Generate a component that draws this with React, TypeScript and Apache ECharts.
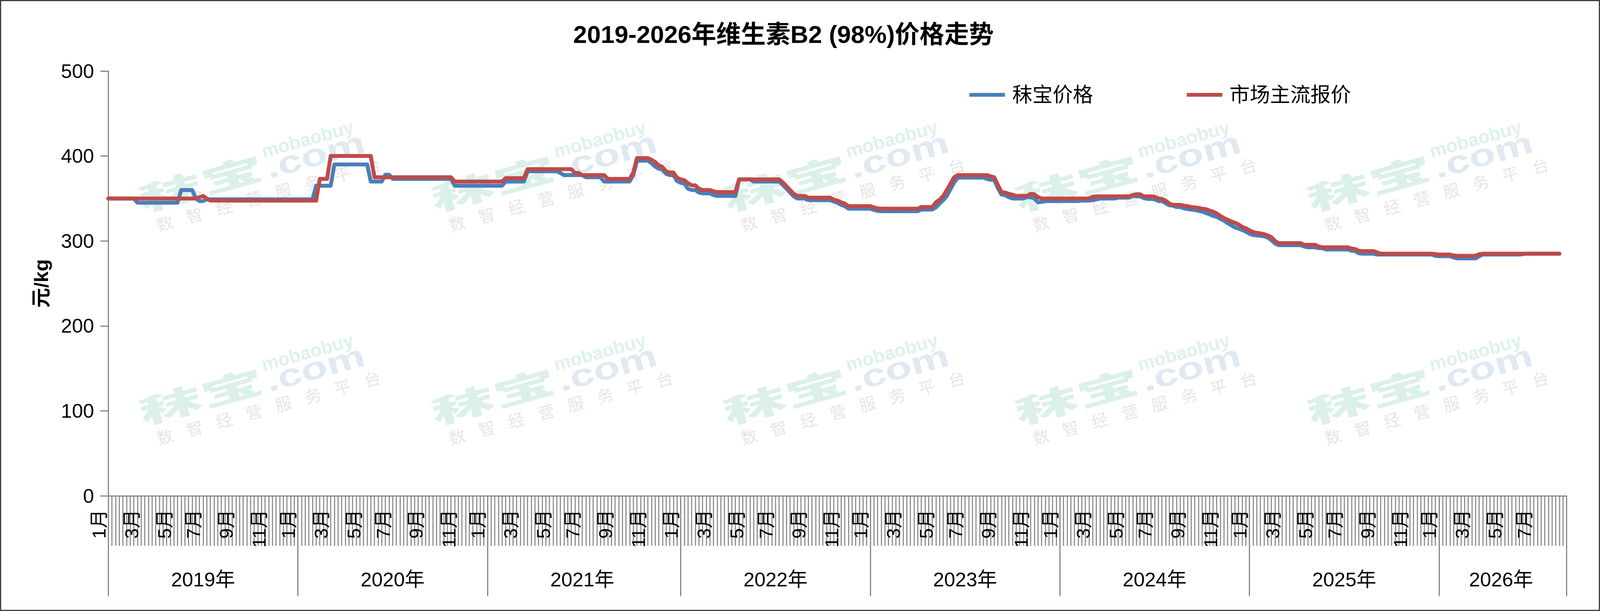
import React, { useEffect, useRef } from "react";
import * as echarts from "echarts";

// ---------- labels ----------
const chartTitle = "2019-2026年维生素B2 (98%)价格走势";
const yearNames = ["2019年", "2020年", "2021年", "2022年", "2023年", "2024年", "2025年", "2026年"];
const weeksPerYear = [52, 52, 53, 52, 52, 52, 52, 36];
const monthNames = ["1月", "3月", "5月", "7月", "9月", "11月"];
const monthWeekOffsets = [0, 9, 18, 26, 35, 44];
const seriesNames = ["秣宝价格", "市场主流报价"];
const yAxisName = "元/kg";
const yMin = 0;
const yMax = 500;
const yStep = 100;

// ---------- weekly prices: 秣宝价格 ----------
const blue2019 = [
  350, 350, 350, 350, 350, 350, 350, 350, 345, 345,
  345, 345, 345, 345, 345, 345, 345, 345, 345, 345,
  360, 360, 360, 360, 350, 347, 347, 349, 349, 349,
  349, 349, 349, 349, 349, 349, 349, 349, 349, 349,
  349, 349, 349, 349, 349, 349, 349, 349, 349, 349,
  349, 349,
];
const blue2020 = [
  349, 349, 349, 349, 349, 365, 365, 365, 365, 365,
  390, 390, 390, 390, 390, 390, 390, 390, 390, 390,
  370, 370, 370, 370, 378, 378, 373, 373, 373, 373,
  373, 373, 373, 373, 373, 373, 373, 373, 373, 373,
  373, 373, 373, 365, 365, 365, 365, 365, 365, 365,
  365, 365,
];
const blue2021 = [
  365, 365, 365, 365, 365, 370, 370, 370, 370, 370,
  370, 382, 382, 382, 382, 382, 382, 382, 382, 382,
  380, 377.5, 377.5, 377.5, 377.5, 377.5, 377.5, 375, 375, 375,
  375, 375, 370, 370, 370, 370, 370, 370, 370, 370,
  377.5, 394.5, 394.5, 394.5, 394.5, 391.5, 387.5, 385, 384, 379,
  377.5, 377.5, 370.5,
];
const blue2022 = [
  368.5, 367.5, 361.5, 360, 360, 357, 356, 356, 356, 354,
  353, 353, 353, 353, 353, 353, 372.5, 372.5, 372.5, 372.5,
  370, 370, 370, 370, 370, 370, 370, 370, 366, 361.5,
  357, 352.5, 350, 350, 350, 348, 348, 348, 348, 348,
  348, 348, 346.5, 345, 342.5, 341, 338, 338, 338, 338,
  338, 338,
];
const blue2023 = [
  338, 336.5, 335.5, 335, 335, 335, 335, 335, 335, 335,
  335, 335, 335, 335, 337, 337, 337, 337, 339.5, 344,
  348, 353, 361, 369, 374.5, 374.5, 374.5, 374.5, 374.5, 374.5,
  374.5, 374.5, 373, 372, 372, 362, 354.5, 354, 351.5, 350,
  350, 350, 350, 351.5, 351.5, 350, 345.5, 346, 347, 347,
  347, 347,
];
const blue2024 = [
  347, 347, 347, 347, 347, 347, 347.5, 347.5, 347.5, 348,
  349, 350, 350, 350, 350, 350, 351, 351, 351, 351,
  353, 352.5, 352.5, 350.5, 349.5, 349.5, 349, 347, 347, 344.5,
  342, 341.5, 340, 340, 338.5, 337.5, 337, 336.5, 335.5, 334.5,
  333, 331.5, 329.5, 328.5, 326, 324, 321, 318.5, 316, 314.5,
  313, 311,
];
const blue2025 = [
  308.5, 307, 306.5, 306, 305.5, 304, 301, 297, 295, 295,
  295, 295, 295, 295, 295, 293.5, 292.5, 292.5, 292.5, 291.5,
  291.5, 290, 290, 290, 290, 290, 290, 290, 288.5, 288,
  285.5, 285, 285, 285, 285, 284, 284, 284, 284, 284,
  284, 284, 284, 284, 284, 284, 284, 284, 284, 284,
  284, 282.5,
];
const blue2026 = [
  282, 282, 282, 282, 280.5, 279.5, 279.5, 279.5, 279.5, 279.5,
  279.5, 282, 284, 284, 284, 284, 284, 284, 284, 284,
  284, 284, 284, 284.5, 285, 285, 285, 285, 285, 285,
  285, 285, 285, 285,
];

// ---------- weekly prices: 市场主流报价 ----------
const red2019 = [
  350, 350, 350, 350, 350, 350, 350, 350, 350, 350,
  350, 350, 350, 350, 350, 350, 350, 350, 350, 350,
  350, 350, 350, 350, 350, 351.5, 353, 350, 347.5, 347.5,
  347.5, 347.5, 347.5, 347.5, 347.5, 347.5, 347.5, 347.5, 347.5, 347.5,
  347.5, 347.5, 347.5, 347.5, 347.5, 347.5, 347.5, 347.5, 347.5, 347.5,
  347.5, 347.5,
];
const red2020 = [
  347.5, 347.5, 347.5, 347.5, 347.5, 347.5, 373, 373, 373, 400,
  400, 400, 400, 400, 400, 400, 400, 400, 400, 400,
  400, 375, 375, 375, 375, 375, 375, 375, 375, 375,
  375, 375, 375, 375, 375, 375, 375, 375, 375, 375,
  375, 375, 375, 370, 370, 370, 370, 370, 370, 370,
  370, 370,
];
const red2021 = [
  370, 370, 370, 370, 370, 374, 374, 374, 374, 374,
  374, 384.5, 384.5, 384.5, 384.5, 384.5, 384.5, 384.5, 384.5, 384.5,
  384.5, 384.5, 384.5, 384.5, 380, 380, 377.5, 377.5, 377.5, 377.5,
  377.5, 377.5, 377.5, 373, 373, 373, 373, 373, 373, 373,
  380.5, 397.5, 397.5, 397.5, 397.5, 395.5, 393, 389, 387, 382,
  380.5, 380.5, 374.5,
];
const red2022 = [
  372.5, 371.5, 368, 365.5, 365.5, 361.5, 360, 360, 360, 358.5,
  357.5, 357.5, 357.5, 357.5, 357.5, 357.5, 372.5, 372.5, 372.5, 372.5,
  372.5, 372.5, 372.5, 372.5, 372.5, 372.5, 372.5, 372.5, 369, 364.5,
  360, 355.5, 353, 353, 353, 351, 351, 351, 351, 351,
  351, 351, 348.5, 347.5, 345.5, 344, 341, 341, 341, 341,
  341, 341,
];
const red2023 = [
  341, 339.5, 338.5, 338, 338, 338, 338, 338, 338, 338,
  338, 338, 338, 338, 340, 340, 340, 340, 345.5, 348.5,
  353, 360, 367.5, 375, 377.5, 377.5, 377.5, 377.5, 377.5, 377.5,
  377.5, 377.5, 377.5, 376, 375, 366, 357.5, 357, 355.5, 354.5,
  353, 353, 353, 353, 355.5, 355, 351.5, 350, 350, 350,
  350, 350,
];
const red2024 = [
  350, 350, 350, 350, 350, 350, 350, 350, 350, 352,
  352.5, 352.5, 352.5, 352.5, 352.5, 352.5, 352.5, 352.5, 352.5, 352.5,
  354, 355, 355, 352.5, 352.5, 352.5, 352, 350, 349.5, 347.5,
  344, 342.5, 342.5, 342.5, 341.5, 341, 340, 339.5, 339, 338,
  337.5, 336, 334.5, 332.5, 329.5, 327, 325, 323, 321.5, 319.5,
  316.5, 315,
];
const red2025 = [
  312.5, 310.5, 309.5, 309, 308, 306.5, 304.5, 300, 297.5, 297.5,
  297.5, 297.5, 297.5, 297.5, 297.5, 295.5, 295.5, 295.5, 295.5, 293.5,
  292.5, 292.5, 292.5, 292.5, 292.5, 292.5, 292.5, 292.5, 291, 290.5,
  288.5, 288, 288, 288, 288, 286.5, 285, 285, 285, 285,
  285, 285, 285, 285, 285, 285, 285, 285, 285, 285,
  285, 284.5,
];
const red2026 = [
  284, 284, 284, 284, 283, 282.5, 282.5, 282.5, 282.5, 282.5,
  282.5, 284.5, 285, 285, 285, 285, 285, 285, 285, 285,
  285, 285, 285, 285, 285, 285, 285, 285, 285, 285,
  285, 285, 285, 285,
];

const blueData = [
  ...blue2019, ...blue2020, ...blue2021, ...blue2022,
  ...blue2023, ...blue2024, ...blue2025, ...blue2026,
];
const redData = [
  ...red2019, ...red2020, ...red2021, ...red2022,
  ...red2023, ...red2024, ...red2025, ...red2026,
];

// ---------- category structure ----------
const yearStarts: number[] = [];
const categories: string[] = [];
{
  let acc = 0;
  weeksPerYear.forEach((w, yi) => {
    yearStarts.push(acc);
    for (let k = 0; k < w; k++) categories.push(yearNames[yi] + "第" + (k + 1) + "周");
    acc += w;
  });
}
const N = categories.length;
const monthLabelAt: Record<number, string> = {};
const yearLabelAt: Record<number, string> = {};
const boundaryIdx = new Set<number>();
yearStarts.forEach((s, yi) => {
  const end = yi + 1 < yearStarts.length ? yearStarts[yi + 1] : N - 1;
  monthWeekOffsets.forEach((off, mi) => {
    if (s + off < end) monthLabelAt[s + off] = monthNames[mi];
  });
  yearLabelAt[Math.floor((s + end) / 2)] = yearNames[yi];
  boundaryIdx.add(s);
});
boundaryIdx.add(N - 1);

const FONT = "'Liberation Sans', 'Noto Sans CJK SC', sans-serif";
const AXIS_GRAY = "#868686";
const BLUE = "#4A7EBB";
const RED = "#BE4B48";
const REF_W = 4270;
const REF_H = 1565;

// ---------- watermark ----------
const wmCols = [531, 1311, 2090, 2869, 3648];
const wmRows = [467, 1013];
const wmSubtitle = ["数", "智", "经", "营", "服", "务", "平", "台"];

function wmText(text: string, x: number, y: number, font: string, fill: string, scaleY = 1) {
  return {
    type: "text",
    x,
    y,
    scaleY,
    style: {
      text,
      x: 0,
      y: 0,
      fill,
      font,
      align: "center",
      verticalAlign: "middle",
      textAlign: "center",
      textVerticalAlign: "middle",
    },
  };
}

function watermark(cx: number, cy: number, s: number) {
  const children: any[] = [
    wmText("秣宝", 5, 0, "900 170px 'Noto Sans CJK SC'", "#dcf0ea", 0.5),
    wmText(".com", 318, 12, "bold 116px 'Liberation Sans'", "#e0e8f1", 0.72),
    wmText("mobaobuy", 310, -34, "bold 50px 'Liberation Sans'", "#def2ec"),
  ];
  wmSubtitle.forEach((ch, i) => {
    children.push(wmText(ch, 170 + (i - 3.5) * 82, 79, "44px 'Noto Sans CJK SC'", "#e6e6e6"));
  });
  return { type: "group", x: cx, y: cy, rotation: 0.27, scaleX: s, scaleY: s, z: 0, silent: true, children };
}

export default function App() {
  const ref = useRef<HTMLDivElement>(null);

  useEffect(() => {
    const el = ref.current;
    if (!el) return;
    document.body.style.margin = "0";
    document.body.style.overflow = "hidden";
    const W = window.innerWidth || REF_W;
    const H = window.innerHeight || REF_H;
    el.style.width = W + "px";
    el.style.height = H + "px";
    const sx = W / REF_W;
    const sy = H / REF_H;
    const fs = sx;
    const X = (v: number) => v * sx;
    const Y = (v: number) => v * sy;
    const F = (v: number) => v * fs;

    const chart = echarts.init(el, undefined, { renderer: "svg", width: W, height: H });

    const graphics: any[] = [];
    wmRows.forEach((ry) => wmCols.forEach((cx) => graphics.push(watermark(X(cx), Y(ry), fs))));
    graphics.push({
      type: "rect",
      z: 100,
      silent: true,
      shape: { x: 1.5, y: 1.5, width: W - 3, height: H - 3 },
      style: { fill: "none", stroke: "#404040", lineWidth: 3 },
    });

    const option: any = {
      animation: false,
      backgroundColor: "#ffffff",
      textStyle: { fontFamily: FONT },
      title: {
        text: chartTitle,
        left: X(2091),
        top: Y(88),
        padding: 0,
        textAlign: "center",
        textVerticalAlign: "middle",
        textStyle: { fontSize: F(66), fontWeight: "bold", color: "#000", fontFamily: FONT },
      },
      legend: {
        data: [
          { name: seriesNames[0], icon: "rect" },
          { name: seriesNames[1], icon: "rect" },
        ],
        left: X(2587),
        top: Y(217),
        padding: 0,
        itemWidth: X(95),
        itemHeight: F(10),
        itemGap: X(250),
        textStyle: { fontSize: F(54), color: "#000", fontFamily: FONT, padding: [0, 0, 0, X(14)] },
      },
      grid: { left: X(289), top: Y(182), width: X(3892), height: Y(1088), containLabel: false },
      xAxis: [
        {
          type: "category",
          data: categories,
          boundaryGap: false,
          position: "bottom",
          axisLine: { show: true, onZero: false, lineStyle: { color: AXIS_GRAY, width: 3 } },
          axisTick: { show: true, interval: 0, length: Y(128), lineStyle: { color: AXIS_GRAY, width: 2.7 } },
          axisLabel: {
            interval: (i: number) => monthLabelAt[i] !== undefined,
            formatter: (_v: string, i: number) => monthLabelAt[i] ?? "",
            rotate: 90,
            verticalAlign: "bottom",
            margin: Y(35),
            fontSize: F(50),
            color: "#000",
            fontFamily: FONT,
          },
          splitLine: { show: false },
        },
        {
          type: "category",
          data: categories,
          boundaryGap: false,
          position: "bottom",
          axisLine: { show: false, onZero: false },
          axisTick: {
            show: true,
            interval: (i: number) => boundaryIdx.has(i),
            length: Y(257),
            lineStyle: { color: AXIS_GRAY, width: 3 },
          },
          axisLabel: {
            interval: (i: number) => yearLabelAt[i] !== undefined,
            formatter: (_v: string, i: number) => yearLabelAt[i] ?? "",
            margin: Y(214),
            verticalAlign: "middle",
            fontSize: F(53),
            color: "#000",
            fontFamily: FONT,
          },
          splitLine: { show: false },
        },
      ],
      yAxis: {
        type: "value",
        min: yMin,
        max: yMax,
        interval: yStep,
        name: yAxisName,
        nameLocation: "middle",
        nameGap: X(153),
        nameTextStyle: { fontSize: F(53), fontWeight: "bold", color: "#000", fontFamily: FONT },
        axisLine: { show: true, lineStyle: { color: AXIS_GRAY, width: 3 } },
        axisTick: { show: true, length: X(21), lineStyle: { color: AXIS_GRAY, width: 3 } },
        axisLabel: { fontSize: F(53), margin: X(38), color: "#000", fontFamily: FONT },
        splitLine: { show: false },
      },
      series: [
        {
          name: seriesNames[0],
          type: "line",
          data: blueData,
          xAxisIndex: 0,
          yAxisIndex: 0,
          symbol: "none",
          showSymbol: false,
          z: 2,
          lineStyle: { color: BLUE, width: 10, cap: "round", join: "round" },
          itemStyle: { color: BLUE },
        },
        {
          name: seriesNames[1],
          type: "line",
          data: redData,
          xAxisIndex: 0,
          yAxisIndex: 0,
          symbol: "none",
          showSymbol: false,
          z: 3,
          lineStyle: { color: RED, width: 10, cap: "round", join: "round" },
          itemStyle: { color: RED },
        },
      ],
      graphic: graphics,
    };

    chart.setOption(option);
    return () => chart.dispose();
  }, []);

  return (
    <div
      ref={ref}
      style={{ position: "absolute", left: 0, top: 0, width: REF_W, height: REF_H, background: "#fff" }}
    />
  );
}
